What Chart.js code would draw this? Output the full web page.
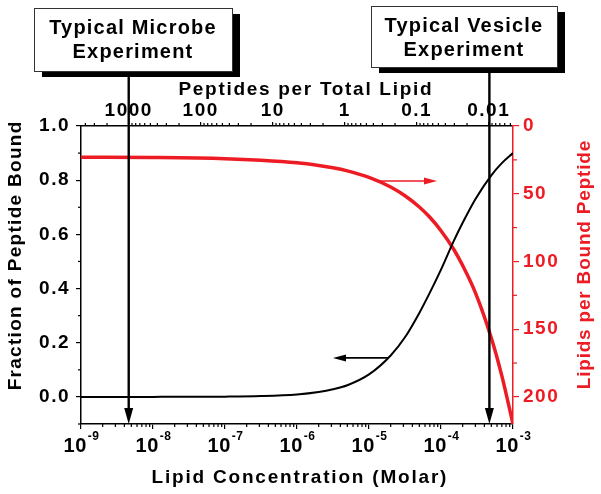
<!DOCTYPE html>
<html>
<head>
<meta charset="utf-8">
<script src="https://cdn.jsdelivr.net/npm/chart.js@4.4.1/dist/chart.umd.min.js"></script>
<style>
  html, body { margin: 0; padding: 0; background: #fff; }
  #wrap { width: 601px; height: 494px; }
</style>
</head>
<body>
<div id="wrap"><canvas id="c" width="601" height="494"></canvas></div>
<script>
// lipid concentration (M) and the two curves
const lipidConc = [1e-9, 1e-8, 1e-7, 3.16e-7, 1e-6, 2e-6, 3.16e-6, 5e-6, 1e-5, 2e-5, 3.16e-5, 5e-5, 7e-5, 1e-4, 1.5e-4, 2e-4, 3e-4, 5e-4, 7e-4, 1e-3];
const fractionBound = [0, 0.0001, 0.001, 0.003, 0.009, 0.018, 0.028, 0.043, 0.083, 0.153, 0.22, 0.31, 0.385, 0.47, 0.575, 0.643, 0.73, 0.818, 0.863, 0.90];
const lipidsPerBound = [23.1, 23.3, 24.1, 25.2, 27.1, 29.1, 30.8, 33.1, 37.9, 45, 51.5, 59.8, 67.4, 77.3, 91, 103, 123, 156.5, 184.5, 220];

// axis ranges and tick labels
const xMin = 1e-9, xMax = 1e-3;
const peptideConc = 4.6e-6;   // top axis: peptides per total lipid
const bottomExps = [-9, -8, -7, -6, -5, -4, -3];
const topTicks = [1000, 100, 10, 1, 0.1, 0.01];
const leftTicks = [0, 0.2, 0.4, 0.6, 0.8, 1.0];
const leftMinor = [-0.1, 0.1, 0.3, 0.5, 0.7, 0.9];
const rightTicks = [0, 50, 100, 150, 200];
const rightMinor = [25, 75, 125, 175];

// annotations
const expLabels = [['Typical Microbe', 'Experiment'], ['Typical Vesicle', 'Experiment']];
const expConc = [4.6e-9, 4.7e-4];
const sideArrows = [
  { yAxis: 'y2', from: 1.42e-5, to: 8.8e-5, at: 40.6, color: 'red' },
  { yAxis: 'y', from: 1.84e-5, to: 3.16e-6, at: 0.144, color: 'black' }
];

const RED = '#ed1c24';
const FONT = '"Liberation Sans", Arial, sans-serif';
const boxes = [[34, 8, 198, 63], [371, 6, 186, 61]];  // x, y, w, h in px

function line(ctx, x1, y1, x2, y2) {
  ctx.beginPath(); ctx.moveTo(x1, y1); ctx.lineTo(x2, y2); ctx.stroke();
}

function arrow(ctx, x1, y1, x2, y2, head, half, color, width) {
  const a = Math.atan2(y2 - y1, x2 - x1);
  const bx = x2 - Math.cos(a) * head, by = y2 - Math.sin(a) * head;
  ctx.strokeStyle = color; ctx.fillStyle = color; ctx.lineWidth = width;
  line(ctx, x1, y1, bx, by);
  ctx.beginPath();
  ctx.moveTo(x2, y2);
  ctx.lineTo(bx - Math.sin(a) * half, by + Math.cos(a) * half);
  ctx.lineTo(bx + Math.sin(a) * half, by - Math.cos(a) * half);
  ctx.closePath(); ctx.fill();
}

function logMinors(min, max) {
  const out = [];
  for (let d = Math.floor(Math.log10(min)); d <= Math.ceil(Math.log10(max)); d++) {
    for (let m = 2; m <= 9; m++) {
      const v = m * Math.pow(10, d);
      if (v >= min && v <= max) out.push(v);
    }
  }
  return out;
}

function title(ctx, text, x, y, rot, color, spacing) {
  ctx.save();
  ctx.translate(x, y);
  if (rot) ctx.rotate(rot);
  ctx.letterSpacing = spacing + 'px';
  ctx.font = 'bold 19px ' + FONT;
  ctx.fillStyle = color; ctx.textAlign = 'center'; ctx.textBaseline = 'alphabetic';
  ctx.fillText(text, spacing / 2, 0);
  ctx.restore();
}

const spacing = {
  id: 'spacing',
  beforeUpdate(chart) { chart.ctx.letterSpacing = '1.5px'; }
};

const extras = {
  id: 'extras',
  afterDraw(chart) {
    const { ctx, chartArea: a, scales } = chart;
    ctx.save();

    // minor ticks
    ctx.lineWidth = 1.2; ctx.strokeStyle = '#000';
    logMinors(xMin, xMax).forEach(v => {
      const x = scales.x.getPixelForValue(v);
      line(ctx, x, a.bottom, x, a.bottom + 3);
    });
    logMinors(peptideConc / xMax, peptideConc / xMin).forEach(v => {
      const x = scales.x2.getPixelForValue(v);
      line(ctx, x, a.top, x, a.top - 3);
    });
    leftMinor.forEach(v => {
      const y = scales.y.getPixelForValue(v);
      line(ctx, a.left - 3, y, a.left, y);
    });
    ctx.strokeStyle = RED;
    rightMinor.forEach(v => {
      const y = scales.y2.getPixelForValue(v);
      line(ctx, a.right, y, a.right + 4, y);
    });

    // bottom labels 10^n
    ctx.fillStyle = '#000'; ctx.textBaseline = 'alphabetic'; ctx.textAlign = 'left';
    ctx.letterSpacing = '0.5px';
    bottomExps.forEach(e => {
      const x = scales.x.getPixelForValue(Math.pow(10, e));
      ctx.font = 'bold 20px ' + FONT;
      const w1 = ctx.measureText('10').width;
      ctx.font = 'bold 12px ' + FONT;
      const w2 = ctx.measureText(String(e)).width;
      const x0 = x - (w1 + w2) / 2;
      ctx.font = 'bold 20px ' + FONT;
      ctx.fillText('10', x0, 452);
      ctx.font = 'bold 12px ' + FONT;
      ctx.fillText(String(e), x0 + w1 + 1, 440);
    });

    // axis titles
    title(ctx, 'Lipid Concentration (Molar)', 299, 483, 0, '#000', 1.8);
    title(ctx, 'Peptides per Total Lipid', 305, 95, 0, '#000', 1.7);
    title(ctx, 'Fraction of Peptide Bound', 21, 256, -Math.PI / 2, '#000', 1.3);
    title(ctx, 'Lipids per Bound Peptide', 590, 265, -Math.PI / 2, RED, 0.8);

    // small direction arrows
    sideArrows.forEach(s => {
      const y = scales[s.yAxis].getPixelForValue(s.at);
      const x1 = scales.x.getPixelForValue(s.from), x2 = scales.x.getPixelForValue(s.to);
      arrow(ctx, x1, y, x2, y, 13, 3.5, s.color === 'red' ? RED : '#000', 1.6);
    });

    // experiment boxes and vertical arrows
    expLabels.forEach((lines, i) => {
      const [bx, by, bw, bh] = boxes[i];
      const x = scales.x.getPixelForValue(expConc[i]);
      arrow(ctx, x, by + bh + 6, x, a.bottom, 16, 4.5, '#000', 2.4);
      ctx.fillStyle = '#000';
      ctx.fillRect(bx + 8, by + 6, bw, bh);
      ctx.fillStyle = '#fff';
      ctx.fillRect(bx, by, bw, bh);
      ctx.strokeStyle = '#333'; ctx.lineWidth = 1;
      ctx.strokeRect(bx + 0.5, by + 0.5, bw, bh);
      ctx.fillStyle = '#000';
      ctx.font = 'bold 20px ' + FONT;
      ctx.letterSpacing = '1.2px';
      ctx.textAlign = 'center'; ctx.textBaseline = 'alphabetic';
      ctx.fillText(lines[0], bx + bw / 2, by + 26);
      ctx.fillText(lines[1], bx + bw / 2, by + 50);
    });

    ctx.restore();
  }
};

const tickFont = { family: FONT, size: 19, weight: 'bold' };

new Chart(document.getElementById('c'), {
  type: 'line',
  data: {
    datasets: [
      {
        label: 'Fraction of Peptide Bound',
        data: lipidConc.map((x, i) => ({ x, y: fractionBound[i] })),
        borderColor: '#000', borderWidth: 2, pointRadius: 0,
        cubicInterpolationMode: 'monotone', xAxisID: 'x', yAxisID: 'y'
      },
      {
        label: 'Lipids per Bound Peptide',
        data: lipidConc.map((x, i) => ({ x, y: lipidsPerBound[i] })),
        borderColor: RED, borderWidth: 3.5, pointRadius: 0,
        cubicInterpolationMode: 'monotone', xAxisID: 'x', yAxisID: 'y2'
      }
    ]
  },
  options: {
    responsive: false,
    animation: false,
    devicePixelRatio: 1,
    layout: { padding: 0 },
    plugins: { legend: { display: false }, tooltip: { enabled: false } },
    scales: {
      x: {
        type: 'logarithmic', position: 'bottom', min: xMin, max: xMax,
        afterBuildTicks: s => { s.ticks = bottomExps.map(e => ({ value: Math.pow(10, e) })); },
        afterFit: s => { s.height = 70; },
        ticks: { callback: () => '', font: tickFont },
        grid: { drawOnChartArea: false, tickLength: 5, color: '#000', lineWidth: 1.2 },
        border: { color: '#000', width: 1.5 }
      },
      x2: {
        type: 'logarithmic', position: 'top', reverse: true,
        min: peptideConc / xMax, max: peptideConc / xMin,
        afterBuildTicks: s => { s.ticks = topTicks.map(v => ({ value: v })); },
        afterFit: s => { s.height = 126; },
        ticks: { callback: v => String(v), color: '#000', font: tickFont, padding: 0, maxRotation: 0 },
        grid: { drawOnChartArea: false, tickLength: 4, color: '#000', lineWidth: 1.2 },
        border: { color: '#000', width: 1.5 }
      },
      y: {
        type: 'linear', position: 'left', min: -0.1, max: 1.0,
        afterBuildTicks: s => { s.ticks = leftTicks.map(v => ({ value: v })); },
        afterFit: s => { s.width = 81; },
        ticks: { callback: v => v.toFixed(1), color: '#000', font: tickFont, padding: 6 },
        grid: { drawOnChartArea: false, tickLength: 5, color: '#000', lineWidth: 1.2 },
        border: { color: '#000', width: 1.5 }
      },
      y2: {
        type: 'linear', position: 'right', min: 0, max: 220, reverse: true,
        afterBuildTicks: s => { s.ticks = rightTicks.map(v => ({ value: v })); },
        afterFit: s => { s.width = 88; },
        ticks: { callback: v => String(v), color: RED, font: tickFont, padding: 4 },
        grid: { drawOnChartArea: false, tickLength: 6, color: RED, lineWidth: 1.2 },
        border: { color: RED, width: 1.5 }
      }
    }
  },
  plugins: [spacing, extras]
});
</script>
</body>
</html>
